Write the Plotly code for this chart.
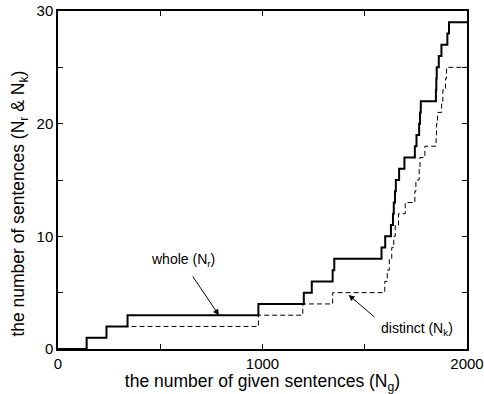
import plotly.graph_objects as go

# whole (N_r): step change points
whole_x = [0, 140, 237, 340, 980, 1202, 1241, 1343, 1351, 1582, 1600, 1628, 1638, 1642,
           1648, 1652, 1668, 1694, 1745, 1753, 1766, 1770, 1774, 1848, 1850, 1852, 1862,
           1875, 1904, 1912, 2000]
whole_y = [0, 1, 2, 3, 4, 5, 6, 7, 8, 9, 10, 11, 12, 13,
           14, 15, 16, 17, 18, 19, 20, 21, 22, 23, 24, 25, 26,
           27, 28, 29, 29]

# distinct (N_k)
distinct_x = [0, 140, 237, 980, 1197, 1343, 1598, 1610, 1620, 1632, 1642, 1649, 1665,
              1698, 1745, 1750, 1766, 1770, 1794, 1849, 1851, 1856, 1876, 1882, 1895,
              1900, 2000]
distinct_y = [0, 1, 2, 3, 4, 5, 6, 7, 8, 9, 10, 11, 12,
              13, 14, 15, 16, 17, 18, 19, 20, 21, 22, 23, 24,
              25, 25]

x_tickvals = [0, 500, 1000, 1500, 2000]
x_ticktext = ["0", "", "1000", "", "2000"]
y_tickvals = [0, 5, 10, 15, 20, 25, 30]
y_ticktext = ["0", "", "10", "", "20", "", "30"]

FONT = "Liberation Sans, Arial, sans-serif"

fig = go.Figure()
fig.add_trace(go.Scatter(x=distinct_x, y=distinct_y, mode="lines", line_shape="hv",
                         line=dict(color="black", width=1, dash="5px,3px")))
fig.add_trace(go.Scatter(x=whole_x, y=whole_y, mode="lines", line_shape="hv",
                         line=dict(color="black", width=2)))

fig.add_annotation(x=787, y=3.0, ax=654, ay=6.57, xref="x", yref="y", axref="x", ayref="y",
                   showarrow=True, arrowhead=2, arrowsize=1.2, arrowwidth=1, arrowcolor="black",
                   text="")
fig.add_annotation(x=610, y=7.9, xref="x", yref="y", showarrow=False,
                   text="whole (N<sub>r</sub>)", font=dict(size=14, color="black", family=FONT))
fig.add_annotation(x=1421, y=4.8, ax=1555, ay=2.72, xref="x", yref="y", axref="x", ayref="y",
                   showarrow=True, arrowhead=2, arrowsize=1.2, arrowwidth=1, arrowcolor="black",
                   text="")
fig.add_annotation(x=1756, y=1.74, xref="x", yref="y", showarrow=False,
                   text="distinct (N<sub>k</sub>)", font=dict(size=14, color="black", family=FONT))

# y-axis title as annotation
fig.add_annotation(x=-0.093, y=0.43, xref="paper", yref="paper", showarrow=False,
                   textangle=-90, xanchor="center", yanchor="middle",
                   text="the number of sentences (N<sub>r</sub> &amp; N<sub>k</sub>)",
                   font=dict(size=17.5, color="black", family=FONT))

axis_common = dict(showline=True, linecolor="black", linewidth=1.5, mirror="ticks",
                   ticks="inside", ticklen=5, tickwidth=1, tickcolor="black",
                   showgrid=False, zeroline=False, ticklabeloverflow="allow",
                   automargin=False,
                   tickfont=dict(size=15, color="black", family=FONT))

fig.update_xaxes(range=[0, 2000], tickvals=x_tickvals, ticktext=x_ticktext,
                 title=dict(text="the number of given sentences (N<sub>g</sub>)",
                            font=dict(size=17.5, color="black", family=FONT), standoff=0),
                 **axis_common)
fig.update_yaxes(range=[0, 30], tickvals=y_tickvals, ticktext=y_ticktext, **axis_common)

fig.update_layout(width=484, height=394, showlegend=False,
                  margin=dict(l=58, r=17, t=11, b=45),
                  plot_bgcolor="white", paper_bgcolor="white",
                  font=dict(family=FONT, color="black"))

fig.write_html("out.html")
